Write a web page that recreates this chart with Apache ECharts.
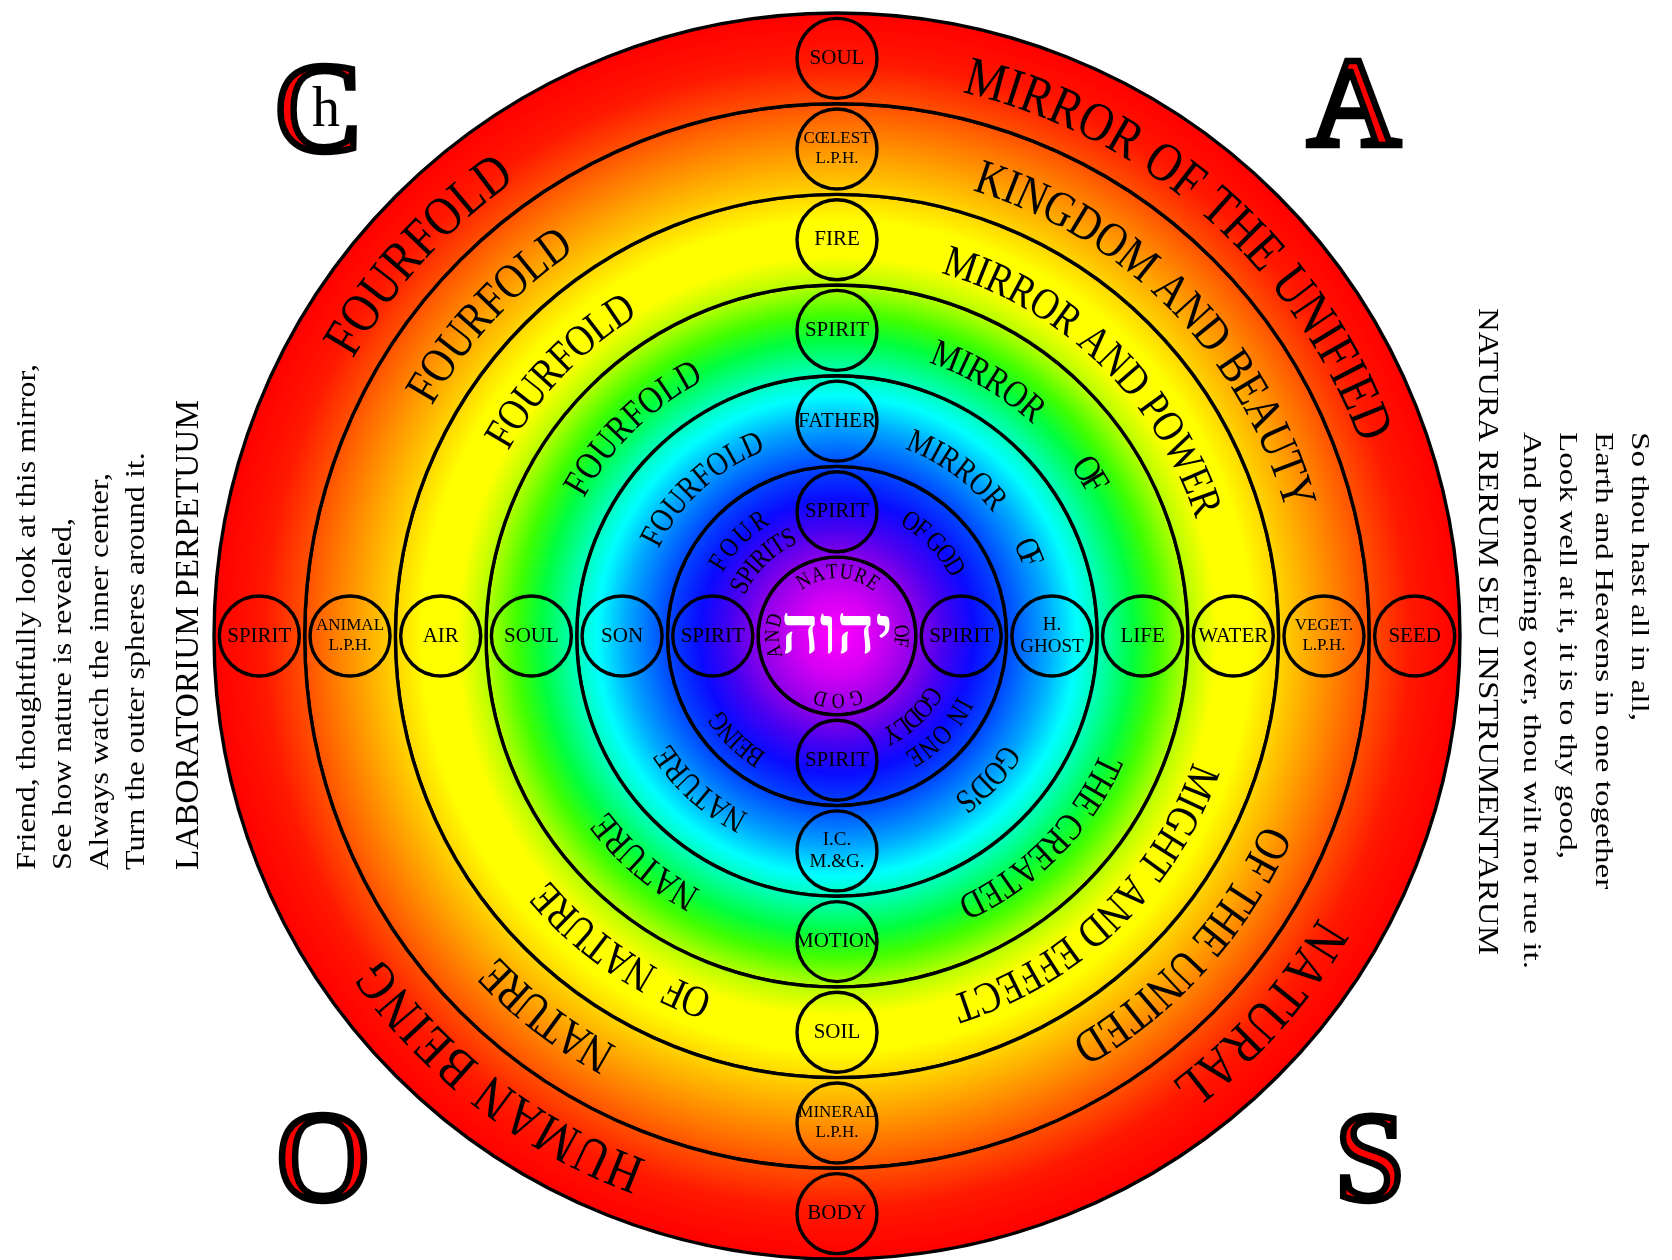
<!DOCTYPE html>
<html><head><meta charset="utf-8">
<script src="https://cdn.jsdelivr.net/npm/echarts@6/dist/echarts.min.js"></script>
<style>html,body{margin:0;padding:0;background:#fff}#c{width:1672px;height:1260px}</style>
</head><body><div id="c"></div>
<script>
// ---------------- data ----------------
const CORE = 0.87; // radius of the central disc in ring units
const ringNames = ['NATURE OF GOD', 'RING 1', 'RING 2', 'RING 3', 'RING 4', 'RING 5', 'RING 6'];
const ringSpans = [0.87, 1, 1, 1, 1, 1, 1];

// sphere names, ring 1 (inner) .. ring 6 (outer)
const northNodes = ['SPIRIT', 'FATHER', 'SPIRIT', 'FIRE', 'CŒLEST\nL.P.H.', 'SOUL'];
const eastNodes  = ['SPIRIT', 'H.\nGHOST', 'LIFE', 'WATER', 'VEGET.\nL.P.H.', 'SEED'];
const southNodes = ['SPIRIT', 'I.C.\nM.&G.', 'MOTION', 'SOIL', 'MINERAL\nL.P.H.', 'BODY'];
const westNodes  = ['SPIRIT', 'SON', 'SOUL', 'AIR', 'ANIMAL\nL.P.H.', 'SPIRIT'];
const nodeBearings = [0, 90, 180, 270];

// inscriptions: [text, ring, from deg, to deg] (clockwise from top)
const arcLabels = [
  ['MIRROR OF THE UNIFIED', 6, 13.0, 69.8],
  ['NATURAL', 6, 120.3, 143.2],
  ['HUMAN BEING', 6, 200.0, 234.8],
  ['FOURFOLD', 6, 299.8, 324.8],
  ['KINGDOM AND BEAUTY', 5, 16.9, 74.4],
  ['OF THE UNITED', 5, 113.8, 149.9],
  ['NATURE', 5, 208.2, 226.6],
  ['FOURFOLD', 5, 299.6, 325.8],
  ['MIRROR AND POWER', 4, 16.0, 71.9],
  ['MIGHT AND EFFECT', 4, 109.5, 162.5],
  ['OF  NATURE', 4, 199.2, 229.7],
  ['FOURFOLD', 4, 299.4, 328.2],
  ['MIRROR', 3, 18.6, 42.7],
  ['OF', 3, 54.0, 60.9],
  ['THE CREATED', 3, 113.9, 155.4],
  ['NATURE', 3, 208.3, 232.6],
  ['FOURFOLD', 3, 298.6, 332.5],
  ['MIRROR', 2, 20.0, 51.6],
  ['OF', 2, 62.6, 70.2],
  ["GOD'S", 2, 122.8, 144.2],
  ['NATURE', 2, 206.5, 237.3],
  ['FOURFOLD', 2, 296.1, 338.9],
  ['OF GOD', 1, 29.3, 63.0],
  ['IN ONE', 1, 116.6, 149.9],
  ['GODLY', 1, 118.3, 155.3],
  ['BEING', 1, 211.2, 237.6],
  ['FOUR', 1, 299.1, 329.1],
  ['SPIRITS', 1, 293.9, 337.2],
  ['NATURE', 0, 323.0, 399.0],
  ['OF', 0, 80.0, 100.0],
  ['GOD', 0, 157.0, 201.0],
  ['AND', 0, 250.0, 290.0]
];

const divineName = 'יהוה';
const leftVerse = ['Friend, thoughtfully look at this mirror,', 'See how nature is revealed,', 'Always watch the inner center,', 'Turn the outer spheres around it.'];
const leftMotto = 'LABORATORIUM PERPETUUM';
const rightVerse = ['So thou hast all in all,', 'Earth and Heavens in one together', 'Look well at it, it is to thy good,', 'And pondering over, thou wilt not rue it.'];
const rightMotto = 'NATURA RERUM SEU INSTRUMENTARUM';
const cornerLetters = ['C', 'A', 'O', 'S'];

// ---------------- styling / layout ----------------
const FONT = '"Liberation Serif", "Times New Roman", serif';
const CX = 837, CY = 636, R = 623;
const ringFont = {0: 18, 1: 23, 2: 28, 3: 32, 4: 37, 5: 41, 6: 46};
const ringLane = {0: -0.17, 1: 0, 2: -0.08, 3: -0.08, 4: -0.08, 5: -0.09, 6: -0.06};
const laneByText = {'OF GOD': 0.12, 'IN ONE': 0.2, 'GODLY': -0.15, 'BEING': 0.22, 'FOUR': 0.15, 'SPIRITS': -0.18};
const GLYPH_STRETCH = 1.2;
const cornerPos = [[318, 117], [1354, 111], [323, 1166], [1370, 1166]];

const gradStops = [
  [0, '#ff00ff'], [0.06, '#d600f4'], [0.127, '#8a00e8'], [0.17, '#4a00f0'], [0.22, '#0a0aff'],
  [0.28, '#0050ff'], [0.34, '#00aaff'], [0.385, '#00ffff'], [0.425, '#00ffb0'], [0.475, '#00ff40'],
  [0.515, '#40ff00'], [0.56, '#b0ff00'], [0.61, '#ffff00'], [0.665, '#ffff00'], [0.715, '#ffd000'],
  [0.785, '#ff9000'], [0.855, '#ff5000'], [0.92, '#ff1800'], [1, '#ff0000']
].map(s => ({offset: s[0], color: s[1]}));
const wheelFill = new echarts.graphic.RadialGradient(CX, CY, R, gradStops, true);

const measureCtx = document.createElement('canvas').getContext('2d');
function textWidth(t, font) { measureCtx.font = font; return measureCtx.measureText(t).width; }

function renderArc(params, api) {
  const [text, ring, from, to] = arcLabels[params.dataIndex];
  const size = ringFont[ring];
  const lane = laneByText[text] !== undefined && ring === 1 ? laneByText[text] : ringLane[ring];
  const rVal = ring === 0 ? CORE + lane : CORE + ring - 0.5 + lane;
  const c0 = api.coord([0, 0]);
  const p0 = api.coord([rVal, 0]);
  const rPx = Math.hypot(p0[0] - c0[0], p0[1] - c0[1]);
  const font = size + 'px ' + FONT;
  const chars = Array.from(text);
  const w = chars.map(ch => textWidth(ch, font));
  const W = w.reduce((a, b) => a + b, 0);
  let span = to - from; if (span < 0) span += 360;
  const L = span * Math.PI / 180 * rPx;
  const gap = chars.length > 1 ? (L - W) / (chars.length - 1) : 0;
  let s = 0; const children = [];
  chars.forEach((ch, i) => {
    const mid = s + w[i] / 2; s += w[i] + gap;
    if (ch === ' ') return;
    const ang = from + mid / rPx * 180 / Math.PI;
    const angN = ((ang % 360) + 360) % 360;
    const pt = api.coord([rVal, angN]);
    children.push({
      type: 'text', x: pt[0], y: pt[1], rotation: -ang * Math.PI / 180, scaleY: GLYPH_STRETCH,
      style: {text: ch, font: font, fill: '#000', align: 'center', verticalAlign: 'middle'}
    });
  });
  return {type: 'group', children};
}

const nodeData = [];
[northNodes, eastNodes, southNodes, westNodes].forEach((list, d) => {
  list.forEach((name, k) => {
    const two = name.indexOf('\n') >= 0;
    const fs = name.indexOf('L.P.H.') >= 0 ? 17 : (two ? 19 : 21);
    nodeData.push({name, value: [CORE + k + 0.5, nodeBearings[d]], label: {fontSize: fs, lineHeight: fs + 3}});
  });
});

const ringSeries = ringSpans.map((v, i) => ({
  type: 'bar', name: ringNames[i], coordinateSystem: 'polar', polarIndex: 0, stack: 'wheel',
  data: [v], barWidth: '100%', barCategoryGap: '0%', silent: true, z: 1,
  itemStyle: {color: wheelFill, borderColor: '#000', borderWidth: 3.4},
  animation: false
}));

function fitScale(t, font, len) { return len / textWidth(t, font); }

const graphics = [];
const lvFont = '27px ' + FONT;
const lvScale = fitScale(leftVerse[0], lvFont, 506);
leftVerse.forEach((t, i) => graphics.push({
  type: 'text', x: 28 + i * 36.3, y: 870, rotation: Math.PI / 2, scaleX: lvScale,
  style: {text: t, font: lvFont, fill: '#000', align: 'left', verticalAlign: 'middle'}
}));
graphics.push({
  type: 'text', x: 189, y: 870, rotation: Math.PI / 2, scaleX: fitScale(leftMotto, '34px ' + FONT, 470),
  style: {text: leftMotto, font: '34px ' + FONT, fill: '#000', align: 'left', verticalAlign: 'middle'}
});
const rvFont = '25px ' + FONT;
const rvScale = fitScale(rightVerse[3], rvFont, 537);
rightVerse.forEach((t, i) => graphics.push({
  type: 'text', x: 1639 - i * 36, y: 432, rotation: -Math.PI / 2, scaleX: rvScale,
  style: {text: t, font: rvFont, fill: '#000', align: 'left', verticalAlign: 'middle'}
}));
graphics.push({
  type: 'text', x: 1487, y: 308, rotation: -Math.PI / 2, scaleX: fitScale(rightMotto, '30px ' + FONT, 647),
  style: {text: rightMotto, font: '30px ' + FONT, fill: '#000', align: 'left', verticalAlign: 'middle'}
});
cornerLetters.forEach((ch, i) => {
  const [x, y] = cornerPos[i];
  graphics.push({type: 'text', x, y, z: 10, style: {text: ch, font: '128px ' + FONT, fill: '#ff0000', align: 'center', verticalAlign: 'middle'}});
  graphics.push({type: 'text', x, y, z: 11, style: {text: ch, font: '128px ' + FONT, fill: 'rgba(0,0,0,0)', stroke: '#000', lineWidth: 6.5, align: 'center', verticalAlign: 'middle'}});
});
graphics.push({type: 'text', x: 326, y: 111, z: 12, style: {text: 'h', font: '56px ' + FONT, fill: '#000', align: 'center', verticalAlign: 'middle'}});

const option = {
  animation: false,
  backgroundColor: '#fff',
  polar: [
    {center: [CX, CY], radius: R},
    {center: [CX, CY], radius: R}
  ],
  angleAxis: [
    {polarIndex: 0, type: 'category', data: ['wheel'], startAngle: 90, show: false},
    {polarIndex: 1, type: 'value', min: 0, max: 360, startAngle: 90, clockwise: true, show: false}
  ],
  radiusAxis: [
    {polarIndex: 0, type: 'value', min: 0, max: CORE + 6, show: false},
    {polarIndex: 1, type: 'value', min: 0, max: CORE + 6, show: false}
  ],
  series: ringSeries.concat([
    {
      type: 'scatter', coordinateSystem: 'polar', polarIndex: 1, z: 3, silent: true,
      symbol: 'circle', symbolSize: 80,
      itemStyle: {color: 'rgba(0,0,0,0)', borderColor: '#000', borderWidth: 3.4, opacity: 1},
      label: {show: true, position: 'inside', formatter: p => p.name, color: '#000', fontFamily: FONT, fontSize: 21},
      data: nodeData
    },
    {
      type: 'scatter', coordinateSystem: 'polar', polarIndex: 1, z: 4, silent: true,
      symbolSize: 1, itemStyle: {color: 'rgba(0,0,0,0)', opacity: 1},
      label: {show: true, position: 'inside', formatter: divineName, color: '#fff', fontFamily: FONT, fontWeight: 'bold', fontSize: 67},
      data: [[0, 0]]
    },
    {
      type: 'custom', coordinateSystem: 'polar', polarIndex: 1, z: 5, silent: true,
      data: arcLabels.map(a => [CORE + a[1] - 0.5, (a[2] + a[3]) / 2]),
      renderItem: renderArc
    }
  ]),
  graphic: graphics
};
const chart = echarts.init(document.getElementById('c'));
chart.setOption(option);
</script></body></html>
